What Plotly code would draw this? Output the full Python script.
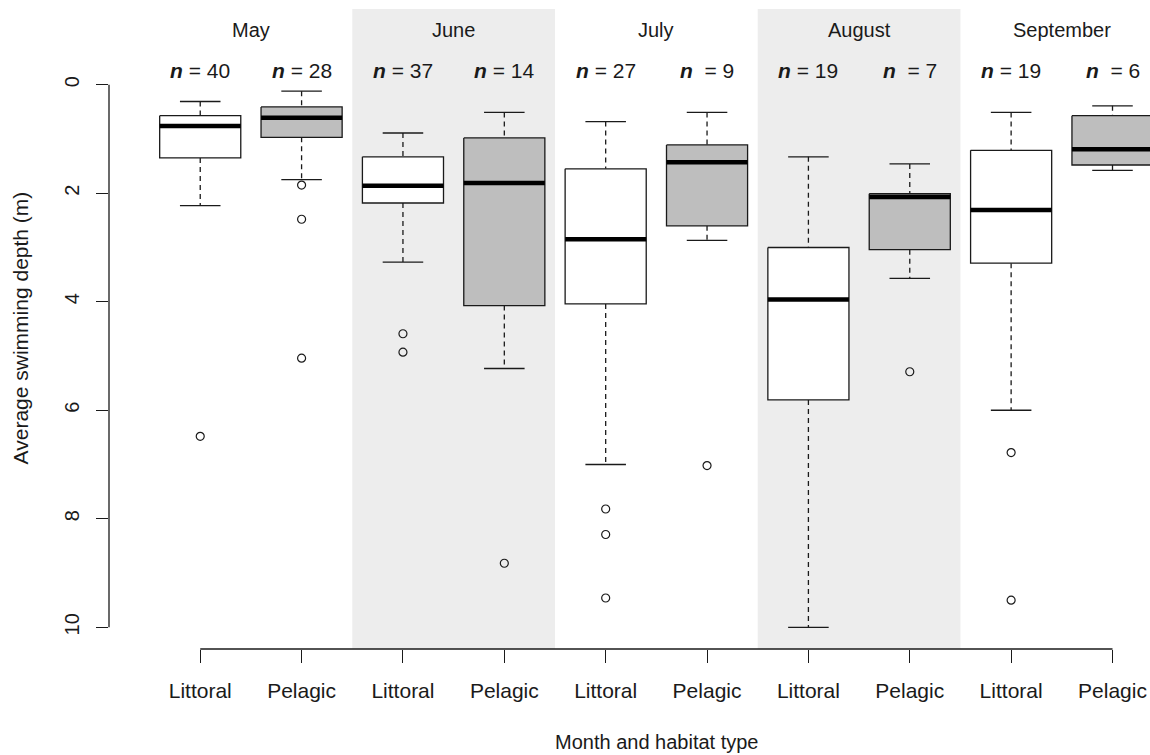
import plotly.graph_objects as go

# Average swimming depth (m) by month and habitat type
months = ["May", "June", "July", "August", "September"]
habitats = ["Littoral", "Pelagic", "Littoral", "Pelagic", "Littoral",
            "Pelagic", "Littoral", "Pelagic", "Littoral", "Pelagic"]
n_obs = [40, 28, 37, 14, 27, 9, 19, 7, 19, 6]

# five-number summaries (depth in metres; the shallow whisker is listed first)
whisker_top = [0.31, 0.12, 0.89, 0.51, 0.68, 0.51, 1.33, 1.46, 0.51, 0.39]
q1 = [0.57, 0.41, 1.33, 0.98, 1.55, 1.11, 3.00, 2.01, 1.21, 0.57]
median = [0.76, 0.61, 1.86, 1.81, 2.85, 1.43, 3.96, 2.07, 2.31, 1.19]
q3 = [1.35, 0.97, 2.18, 4.07, 4.04, 2.60, 5.81, 3.04, 3.29, 1.48]
whisker_bottom = [2.23, 1.75, 3.27, 5.23, 7.00, 2.87, 10.00, 3.57, 6.00, 1.58]
outliers = [[6.48], [1.85, 2.48, 5.04], [4.59, 4.93], [8.82],
            [7.82, 8.29, 9.46], [7.02], [], [5.29], [6.78, 9.50], []]

y_ticks = [0, 2, 4, 6, 8, 10]

FONT = "Liberation Sans, Arial, sans-serif"
INK = "#1a1a1a"
BOX_HALF = 0.4
CAP_HALF = 0.2
fills = {"Littoral": "white", "Pelagic": "#bebebe"}

positions = list(range(1, len(habitats) + 1))

fig = go.Figure()

for i, pos in enumerate(positions):
    # whiskers (dashed) from box edges to the staples
    fig.add_trace(go.Scatter(
        x=[pos, pos, None, pos, pos],
        y=[whisker_top[i], q1[i], None, q3[i], whisker_bottom[i]],
        mode="lines", line=dict(color=INK, width=1.3, dash="5px,4px"),
        hoverinfo="skip", showlegend=False))
    # staples
    fig.add_trace(go.Scatter(
        x=[pos - CAP_HALF, pos + CAP_HALF, None, pos - CAP_HALF, pos + CAP_HALF],
        y=[whisker_top[i], whisker_top[i], None, whisker_bottom[i], whisker_bottom[i]],
        mode="lines", line=dict(color=INK, width=1.3),
        hoverinfo="skip", showlegend=False))
    # box
    fig.add_trace(go.Scatter(
        x=[pos - BOX_HALF, pos + BOX_HALF, pos + BOX_HALF, pos - BOX_HALF, pos - BOX_HALF],
        y=[q1[i], q1[i], q3[i], q3[i], q1[i]],
        mode="lines", fill="toself", fillcolor=fills[habitats[i]],
        line=dict(color=INK, width=1.3),
        hoverinfo="skip", showlegend=False))
    # median
    fig.add_trace(go.Scatter(
        x=[pos - BOX_HALF, pos + BOX_HALF], y=[median[i], median[i]],
        mode="lines", line=dict(color="black", width=4.5),
        hoverinfo="skip", showlegend=False))
    # outliers
    if outliers[i]:
        fig.add_trace(go.Scatter(
            x=[pos] * len(outliers[i]), y=outliers[i], mode="markers",
            marker=dict(symbol="circle-open", size=8, color=INK, line=dict(width=1.2)),
            hoverinfo="skip", showlegend=False))

shapes = []
# shaded bands behind every second month
for m in range(1, len(months), 2):
    shapes.append(dict(type="rect", xref="x", yref="paper",
                       x0=positions[2 * m] - 0.5, x1=positions[2 * m + 1] + 0.5,
                       y0=0, y1=1.092, fillcolor="#ededed", line_width=0,
                       layer="below"))
# axis lines spanning only the tick range
shapes.append(dict(type="line", xref="x", yref="paper",
                   x0=positions[0], x1=positions[-1], y0=0, y1=0,
                   line=dict(color=INK, width=1.3)))
shapes.append(dict(type="line", xref="paper", yref="y",
                   x0=0, x1=0, y0=y_ticks[0], y1=y_ticks[-1],
                   line=dict(color=INK, width=1.3)))

annotations = []
for m, month in enumerate(months):
    annotations.append(dict(
        x=(positions[2 * m] + positions[2 * m + 1]) / 2, y=1.056,
        xref="x", yref="paper", text=month, showarrow=False,
        font=dict(family=FONT, size=20, color=INK),
        xanchor="center", yanchor="middle"))
for i, pos in enumerate(positions):
    gap = "\u00a0" * (3 - len(str(n_obs[i])))
    annotations.append(dict(
        x=pos, y=0.988, xref="x", yref="paper",
        text=f"<b><i>n</i></b>{gap}= {n_obs[i]}", showarrow=False,
        font=dict(family=FONT, size=21, color=INK),
        xanchor="center", yanchor="middle"))
annotations.append(dict(
    x=(positions[0] + positions[-1]) / 2, y=-0.159, xref="x", yref="paper",
    text="Month and habitat type", showarrow=False,
    font=dict(family=FONT, size=20, color=INK),
    xanchor="center", yanchor="middle"))
annotations.append(dict(
    x=-0.085, y=0.548, xref="paper", yref="paper",
    text="Average swimming depth (m)", showarrow=False, textangle=-90,
    font=dict(family=FONT, size=21, color=INK),
    xanchor="center", yanchor="middle"))

fig.update_layout(
    width=1150, height=755,
    margin=dict(l=109, r=0, t=63, b=106, autoexpand=False),
    paper_bgcolor="white", plot_bgcolor="rgba(0,0,0,0)",
    showlegend=False,
    shapes=shapes, annotations=annotations,
    font=dict(family=FONT, size=21, color=INK),
    xaxis=dict(range=[0.1, 10.37], tickmode="array", tickvals=positions,
               ticktext=habitats, ticks="outside", ticklen=13, tickwidth=1.3,
               tickcolor=INK, showline=False, showgrid=False, zeroline=False,
               automargin=False, ticklabelstandoff=10,
               tickfont=dict(family=FONT, size=21, color=INK)),
    yaxis=dict(range=[10.4, -0.4], tickmode="array", tickvals=y_ticks,
               ticks="outside", ticklen=12, tickwidth=1.3, tickcolor=INK,
               tickangle=-90, showline=False, showgrid=False, zeroline=False,
               automargin=False, ticklabelstandoff=9,
               tickfont=dict(family=FONT, size=20, color=INK)),
)

fig.write_html("out.html")
